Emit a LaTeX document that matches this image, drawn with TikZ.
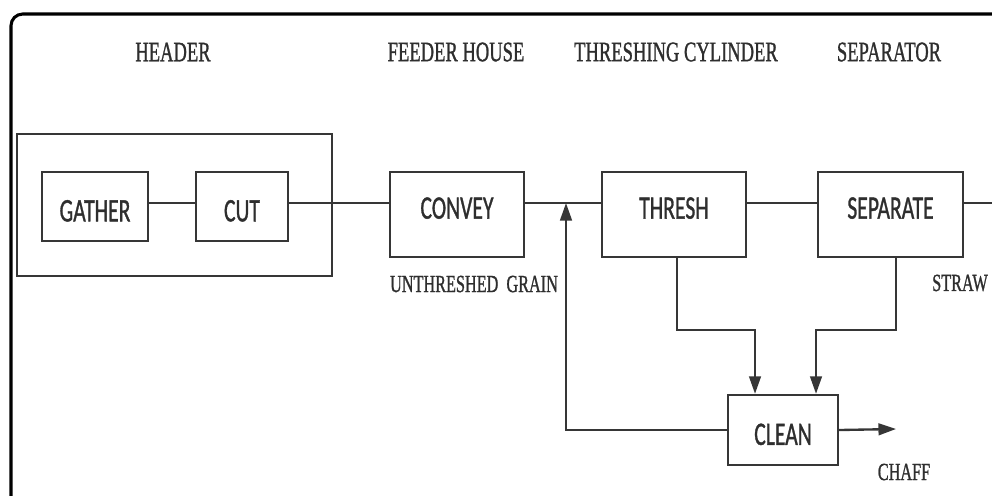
\documentclass[tikz,border=0pt]{standalone}
\usepackage{fontspec}
\setmainfont{Liberation Serif}[FakeBold=1.3]
\newfontfamily\boxfont{Carlito}[FakeBold=1.3]
\usepackage{graphicx}
\usetikzlibrary{arrows.meta,positioning,calc}

\definecolor{inkc}{HTML}{363636}
\definecolor{txtc}{HTML}{2E2E2E}
\newdimen\pxu \pxu=0.03cm
\newcommand{\squeeze}[1]{\scalebox{0.66}[1]{#1}}

\tikzset{
  blk/.style={draw=inkc, line width=2pt, inner sep=0pt, text=txtc,
    font=\boxfont\fontsize{28}{30}\selectfont},
  tallblk/.style={blk, text depth=13\pxu},
  lowblk/.style={blk, text height=30\pxu},
  stage/.style={text=txtc, inner sep=0pt, font=\fontsize{24}{26}\selectfont},
  tag/.style={text=txtc, inner sep=0pt, font=\fontsize{21}{23}\selectfont},
  flow/.style={draw=inkc, line width=2pt},
  arr/.style={flow, -{Triangle[length=15pt,width=10pt]}},
}

\begin{document}
\begin{tikzpicture}[x=1\pxu, y=-1\pxu]
    \useasboundingbox (0,0) rectangle (992,495);
    \clip (0,0) rectangle (992,495);

    % outer frame (cut at right and bottom)
    \draw[black, line width=2.6pt, rounded corners=10pt] (11,520) -- (11,14) -- (1010,14);

    % stage titles
    \node[stage] (t-header) at (173,52) {\squeeze{HEADER}};
    \node[stage] (t-feeder) at (456,52) {\squeeze{FEEDER HOUSE}};
    \node[stage] (t-cyl)    at (676,52) {\squeeze{THRESHING CYLINDER}};
    \node[stage] (t-sep)    at (889,52) {\squeeze{SEPARATOR}};

    % header unit
    \node[blk, minimum width=315\pxu, minimum height=142\pxu] (headerbox) at (174.5,205) {};
    \node[lowblk, minimum width=106\pxu, minimum height=69\pxu] (gather) at (95,206.5) {\squeeze{GATHER}};
    \node[lowblk, minimum width=92\pxu, minimum height=69\pxu] (cut) at (242,206.5) {\squeeze{CUT}};

    % main line
    \node[tallblk, minimum width=134\pxu, minimum height=85\pxu] (convey) at (457,214.5) {\squeeze{CONVEY}};
    \node[tallblk, minimum width=144\pxu, minimum height=85\pxu] (thresh) at (674,214.5) {\squeeze{THRESH}};
    \node[tallblk, minimum width=145\pxu, minimum height=85\pxu] (separate) at (890.5,214.5) {\squeeze{SEPARATE}};
    \node[lowblk, minimum width=110\pxu, minimum height=70\pxu] (clean) at (783,430) {\squeeze{CLEAN}};

    \coordinate (spine) at (0,203);
    \coordinate (join) at (566,203);
    \coordinate (edge) at (1000,203);
    \coordinate (chaffend) at (896,429);

    % flow labels
    \node[tag] (l-grain) at (474,284) {\squeeze{UNTHRESHED\enspace GRAIN}};
    \node[tag, anchor=west] (l-straw) at (932,283) {\squeeze{STRAW}};
    \node[tag] (l-chaff) at (904,472) {\squeeze{CHAFF}};

    % connectors
    \draw[flow] (gather.east |- spine) -- (cut.west |- spine);
    \draw[flow] (cut.east |- spine) -- (convey.west |- spine);
    \draw[flow] (convey.east |- spine) -- (thresh.west |- spine);
    \draw[flow] (thresh.east |- spine) -- (separate.west |- spine);
    \draw[flow] (separate.east |- spine) -- (edge);

    \draw[arr] ($(thresh.south)+(3,0)$) -- ++(0,72) -| ($(clean.north)+(-28,0)$);
    \draw[arr] ($(separate.south)+(5.5,0)$) -- ++(0,72) -| ($(clean.north)+(33,0)$);
    \draw[arr] (clean.west) -| (join);
    \draw[arr] (clean.east) -- (chaffend);
\end{tikzpicture}
\end{document}
